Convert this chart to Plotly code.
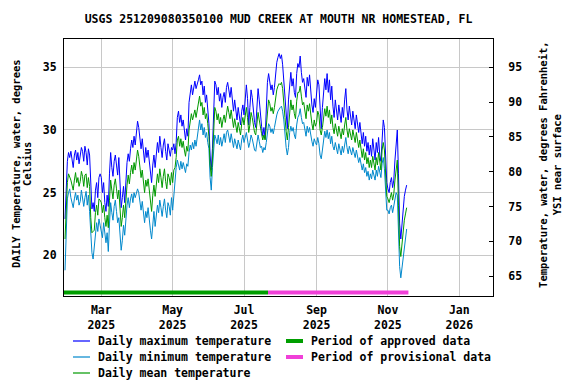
import plotly.graph_objects as go
import pandas as pd

# ---------------- data ----------------
START_DATE = "2025-01-29"
END_DATE = "2025-11-17"

MAX_JAN = [22.9, 26.0, 27.5]
MAX_FEB = [28.2, 27.8, 28.3, 27.4, 27.0, 28.0, 28.4, 27.6, 28.2, 27.3,
           28.0, 28.6, 28.3, 27.5, 28.7, 28.2, 27.2, 28.5, 28.0, 25.0,
           23.7, 24.2, 23.5, 25.2, 25.8, 24.6, 26.2, 26.5]
MAX_MAR = [26.2, 25.0, 25.8, 24.2, 23.5, 24.8, 23.9, 26.5, 28.2, 27.0,
           26.3, 27.5, 28.0, 27.2, 26.4, 27.8, 25.0, 23.8, 24.6, 25.5,
           24.2, 26.0, 27.4, 28.1, 27.5, 28.5, 29.2, 28.6, 29.5, 28.8, 29.6]
MAX_APR = [30.7, 30.2, 29.3, 28.5, 29.3, 28.2, 27.4, 28.6, 27.8, 28.4,
           27.5, 26.8, 25.8, 27.2, 28.0, 27.0, 28.4, 29.0, 28.2, 29.5,
           28.6, 27.8, 28.8, 29.3, 28.3, 27.6, 28.9, 28.5, 27.9, 28.6]
MAX_MAY = [28.4, 28.9, 28.1, 29.0, 31.0, 31.5, 30.6, 31.2, 30.3, 30.8,
           29.9, 29.2, 30.1, 29.5, 32.2, 33.0, 33.6, 32.8, 33.4, 33.9,
           33.3, 33.8, 34.0, 34.4, 33.6, 33.9, 32.8, 33.5, 32.2, 32.8, 31.8]
MAX_JUN = [30.5, 28.0, 26.8, 28.5, 32.0, 33.9, 33.6, 32.8, 33.4, 32.3,
           32.9, 31.8, 32.6, 33.0, 32.2, 33.4, 33.8, 33.2, 32.6, 33.4,
           32.2, 31.5, 32.4, 31.6, 30.8, 31.8, 31.1, 30.4, 31.5, 32.0]
MAX_JUL = [31.2, 32.8, 33.6, 32.5, 30.4, 31.8, 33.2, 32.6, 31.5, 30.6,
           30.2, 32.0, 33.3, 32.4, 31.0, 30.3, 29.5, 30.2, 29.3, 31.5,
           33.8, 34.5, 34.0, 33.2, 33.6, 32.8, 33.4, 34.6, 35.4, 35.8, 36.1]
MAX_AUG = [35.7, 36.0, 35.2, 34.0, 32.5, 31.2, 30.1, 32.4, 34.0, 34.6,
           33.5, 34.1, 33.0, 32.6, 34.5, 35.3, 35.0, 35.9, 34.6, 33.8,
           34.1, 33.2, 32.6, 34.2, 33.5, 34.4, 33.0, 32.0, 31.4, 32.5, 31.8]
MAX_SEP = [32.8, 34.0, 33.6, 31.5, 30.1, 31.8, 33.0, 34.1, 33.2, 34.5,
           33.0, 34.0, 32.4, 33.5, 31.9, 31.0, 32.4, 31.3, 30.8, 32.0,
           31.2, 30.6, 31.8, 31.0, 32.4, 33.3, 31.6, 30.8, 31.9, 30.9]
MAX_OCT = [30.4, 31.5, 30.8, 30.1, 31.2, 30.4, 29.8, 30.6, 29.6, 28.9,
           29.8, 28.7, 29.5, 28.3, 29.0, 28.0, 28.8, 27.9, 29.3, 28.4,
           27.6, 29.0, 28.2, 29.4, 28.0, 27.5, 29.8, 30.8, 30.2, 27.4, 25.8]
MAX_NOV = [25.3, 25.0, 25.8, 26.2, 25.4, 26.0, 27.6, 29.2, 30.0, 26.5,
           22.5, 21.3, 22.6, 23.6, 24.7, 25.2, 25.6]

MIN_JAN = [18.8, 22.0, 24.5]
MIN_FEB = [25.0, 25.3, 24.6, 24.2, 23.8, 24.5, 25.0, 24.4, 24.8, 24.0,
           24.3, 25.2, 24.7, 23.9, 24.6, 25.1, 24.0, 24.8, 23.5, 21.5,
           20.2, 19.7, 20.5, 21.8, 22.6, 21.9, 22.9, 22.4]
MIN_MAR = [22.0, 21.4, 22.6, 21.6, 21.0, 21.8, 20.3, 22.5, 24.2, 23.4,
           22.8, 23.9, 24.4, 23.5, 22.6, 23.0, 21.5, 20.4, 21.2, 22.4,
           21.6, 23.2, 24.0, 24.6, 23.8, 24.5, 24.9, 24.2, 25.0, 24.6, 25.0]
MIN_APR = [25.3, 25.0, 24.4, 23.6, 24.3, 23.4, 22.6, 23.5, 23.0, 23.8,
           22.6, 22.0, 21.3, 22.4, 23.5, 22.3, 23.2, 24.0, 23.4, 24.4,
           23.8, 23.1, 23.9, 24.5, 23.6, 23.0, 24.2, 23.9, 23.2, 24.6]
MIN_MAY = [23.6, 24.8, 26.3, 27.0, 27.6, 27.2, 26.8, 27.5, 26.9, 27.4,
           27.0, 26.6, 27.3, 27.1, 28.2, 28.8, 28.4, 29.0, 28.5, 29.2,
           28.7, 29.5, 30.2, 30.8, 30.0, 30.5, 29.6, 30.2, 29.4, 29.8, 29.0]
MIN_JUN = [28.5, 26.2, 25.2, 27.0, 28.8, 29.6, 29.3, 28.9, 29.6, 28.8,
           29.4, 28.7, 29.2, 29.7, 29.0, 29.8, 30.0, 29.5, 29.0, 29.7,
           28.9, 28.6, 29.3, 28.8, 28.5, 29.2, 28.8, 28.4, 29.2, 29.6]
MIN_JUL = [29.0, 29.5, 29.8, 29.2, 28.6, 29.0, 29.6, 29.3, 28.8, 28.4,
           28.3, 29.0, 29.6, 29.1, 28.6, 28.7, 28.2, 28.6, 28.4, 29.0,
           30.0, 30.5, 30.3, 29.8, 30.1, 29.7, 30.2, 30.8, 31.2, 31.5, 31.7]
MIN_AUG = [31.8, 31.9, 31.5, 30.8, 29.6, 28.6, 28.0, 28.6, 29.8, 30.3,
           29.9, 30.2, 29.6, 29.3, 30.4, 31.0, 31.2, 31.7, 31.0, 30.5,
           30.6, 30.0, 29.5, 30.3, 29.8, 30.2, 29.5, 29.1, 28.7, 29.3, 29.0]
MIN_SEP = [28.8, 29.4, 28.9, 28.0, 27.7, 28.4, 29.2, 29.9, 29.4, 30.0,
           29.3, 29.8, 28.9, 29.5, 28.7, 28.4, 29.0, 28.5, 28.1, 28.9,
           28.4, 28.0, 28.7, 28.2, 28.8, 29.4, 28.6, 28.1, 28.7, 28.2]
MIN_OCT = [28.0, 28.6, 28.2, 27.8, 28.4, 27.9, 27.4, 27.8, 27.2, 26.8,
           27.3, 26.6, 27.0, 26.3, 26.7, 26.0, 26.5, 26.1, 26.8, 26.4,
           26.0, 26.8, 26.3, 27.1, 26.5, 26.2, 27.3, 27.8, 26.9, 24.6, 23.6]
MIN_NOV = [23.6, 23.3, 23.8, 24.0, 23.4, 23.9, 24.5, 25.0, 24.8, 21.5,
           19.1, 18.2, 19.0, 19.9, 21.0, 21.6, 22.1]

MEAN_JAN = [21.3, 24.0, 25.8]
MEAN_FEB = [26.5, 26.3, 26.0, 25.6, 25.2, 26.0, 26.6, 25.8, 26.2, 25.5,
            25.9, 26.7, 26.3, 25.5, 26.4, 26.5, 25.4, 26.2, 25.5, 23.0,
            21.8, 21.9, 22.0, 23.4, 24.0, 23.2, 24.5, 24.4]
MEAN_MAR = [24.2, 23.4, 24.0, 23.0, 22.3, 23.2, 22.2, 24.4, 26.0, 25.2,
            24.5, 25.6, 26.1, 25.3, 24.5, 25.2, 23.4, 22.3, 23.0, 24.0,
            23.0, 24.6, 25.6, 26.4, 25.7, 26.6, 27.2, 26.5, 27.4, 26.8, 27.5]
MEAN_APR = [28.4, 27.9, 27.0, 26.2, 26.8, 25.9, 25.0, 26.0, 25.5, 26.1,
            25.0, 24.4, 23.5, 24.8, 25.6, 24.7, 25.8, 26.5, 25.8, 26.9,
            26.2, 25.4, 26.3, 26.9, 25.9, 25.3, 26.5, 26.2, 25.6, 26.6]
MEAN_MAY = [25.8, 26.8, 27.0, 27.8, 29.2, 29.5, 28.7, 29.3, 28.6, 29.1,
            28.4, 27.9, 28.7, 28.3, 30.0, 30.8, 31.3, 30.8, 31.2, 31.6,
            31.0, 31.6, 32.0, 32.7, 31.9, 32.2, 31.2, 31.8, 30.9, 31.3, 30.5]
MEAN_JUN = [29.5, 27.2, 26.3, 27.6, 30.2, 31.8, 31.5, 30.8, 31.3, 30.5,
            31.0, 30.2, 30.8, 31.2, 30.6, 31.5, 31.9, 31.4, 30.9, 31.6,
            30.7, 30.2, 30.9, 30.4, 29.8, 30.6, 30.1, 29.6, 30.5, 31.0]
MEAN_JUL = [30.4, 31.2, 31.8, 31.0, 29.8, 30.4, 31.4, 31.0, 30.3, 29.8,
            29.6, 30.5, 31.4, 30.8, 30.0, 29.7, 29.2, 29.6, 29.2, 30.3,
            31.8, 32.4, 32.1, 31.5, 31.8, 31.3, 31.8, 32.6, 33.2, 33.5, 33.7]
MEAN_AUG = [33.6, 33.8, 33.3, 32.4, 31.0, 29.9, 29.2, 30.2, 31.8, 32.4,
            31.6, 32.0, 31.3, 30.9, 32.3, 33.0, 33.0, 33.5, 32.7, 32.0,
            32.2, 31.5, 30.9, 32.0, 31.5, 32.1, 31.1, 30.5, 30.0, 30.8, 30.3]
MEAN_SEP = [30.6, 31.5, 31.2, 30.0, 29.6, 30.2, 31.0, 31.7, 31.1, 31.9,
            31.0, 31.6, 30.5, 31.2, 30.2, 29.7, 30.5, 29.9, 29.5, 30.3,
            29.8, 29.3, 30.1, 29.6, 30.4, 31.0, 30.0, 29.4, 30.1, 29.5]
MEAN_OCT = [29.2, 30.0, 29.5, 29.0, 29.8, 29.1, 28.6, 29.2, 28.4, 27.8,
            28.5, 27.6, 28.2, 27.3, 27.8, 27.0, 27.6, 27.0, 27.9, 27.4,
            26.8, 27.8, 27.2, 28.2, 27.2, 26.8, 28.4, 29.0, 28.4, 25.8, 24.7]
MEAN_NOV = [24.5, 24.2, 24.6, 25.0, 24.4, 24.9, 26.0, 27.0, 27.6, 24.0,
            20.7, 19.9, 21.0, 21.8, 22.8, 23.3, 23.8]

APPROVED_PERIOD = ["2025-01-28", "2025-07-21 12:00"]
PROVISIONAL_PERIOD = ["2025-07-21 12:00", "2025-11-18 12:00"]

SERIES_NAMES = ["Daily maximum temperature", "Daily minimum temperature",
                "Daily mean temperature"]
PERIOD_NAMES = ["Period of approved data", "Period of provisional data"]
TITLE = "USGS 251209080350100 MUD CREEK AT MOUTH NR HOMESTEAD, FL"
LEFT_TITLE_LINES = ["DAILY Temperature, water, degrees", "Celsius"]
RIGHT_TITLE = "Temperature, water, degrees Fahrenheit,<br>YSI near surface"

# ---------------- assemble ----------------
dates = pd.date_range(START_DATE, END_DATE, freq="D")
t_max = (MAX_JAN + MAX_FEB + MAX_MAR + MAX_APR + MAX_MAY + MAX_JUN +
         MAX_JUL + MAX_AUG + MAX_SEP + MAX_OCT + MAX_NOV)
t_min = (MIN_JAN + MIN_FEB + MIN_MAR + MIN_APR + MIN_MAY + MIN_JUN +
         MIN_JUL + MIN_AUG + MIN_SEP + MIN_OCT + MIN_NOV)
t_mean = (MEAN_JAN + MEAN_FEB + MEAN_MAR + MEAN_APR + MEAN_MAY + MEAN_JUN +
          MEAN_JUL + MEAN_AUG + MEAN_SEP + MEAN_OCT + MEAN_NOV)
assert len(t_max) == len(dates) == len(t_min) == len(t_mean)

# ---------------- style / geometry ----------------
OFF = 8                      # page body margin of the browser
W, H = 576 - OFF, 384 - OFF
# target screen positions of the plot box
PL, PR, PT, PB = 64, 493, 39, 296
ML, MT = PL - OFF, PT - OFF
MR, MB = W - (PR - OFF), H - (PB - OFF)
PW, PH = W - ML - MR, H - MT - MB

FONT = "DejaVu Sans Mono"
C_RANGE = [16.75, 37.26]
F_RANGE = [c * 9 / 5 + 32 for c in C_RANGE]
X_RANGE = ["2025-01-28 03:00", "2026-01-29 19:00"]
PERIOD_Y = 17.02
GRID = "#c8c8c8"
COL_MAX, COL_MIN, COL_MEAN = "#0000ff", "#0088cc", "#009900"
COL_APP, COL_PROV = "#009e00", "#f040d8"


def px(xs):
    return (xs - PL) / PW


def py(ys):
    return (PB - ys) / PH


fig = go.Figure()
fig.add_trace(go.Scatter(x=dates, y=t_max, mode="lines", name=SERIES_NAMES[0],
                         line=dict(color=COL_MAX, width=1), showlegend=False))
fig.add_trace(go.Scatter(x=dates, y=t_min, mode="lines", name=SERIES_NAMES[1],
                         line=dict(color=COL_MIN, width=1), showlegend=False))
fig.add_trace(go.Scatter(x=dates, y=t_mean, mode="lines", name=SERIES_NAMES[2],
                         line=dict(color=COL_MEAN, width=1), showlegend=False))
fig.add_trace(go.Scatter(x=APPROVED_PERIOD, y=[PERIOD_Y, PERIOD_Y], mode="lines",
                         name=PERIOD_NAMES[0], line=dict(color=COL_APP, width=4),
                         showlegend=False))
fig.add_trace(go.Scatter(x=PROVISIONAL_PERIOD, y=[PERIOD_Y, PERIOD_Y], mode="lines",
                         name=PERIOD_NAMES[1], line=dict(color=COL_PROV, width=4),
                         showlegend=False))
# invisible trace to drive the Fahrenheit axis
fig.add_trace(go.Scatter(x=[dates[0]], y=[t_max[0] * 9 / 5 + 32], yaxis="y2",
                         mode="markers", marker=dict(opacity=0), showlegend=False,
                         hoverinfo="skip"))

# ---- legend drawn by hand (two columns) ----
shapes, annots = [], []
ROWS = [341, 357, 373]
legend_items = [
    (SERIES_NAMES[0], COL_MAX, 1.2, 73, 90, 96, ROWS[0]),
    (SERIES_NAMES[1], COL_MIN, 1.2, 73, 90, 96, ROWS[1]),
    (SERIES_NAMES[2], COL_MEAN, 1.2, 73, 90, 96, ROWS[2]),
    (PERIOD_NAMES[0], COL_APP, 4, 286, 303, 309, ROWS[0]),
    (PERIOD_NAMES[1], COL_PROV, 4, 286, 303, 309, ROWS[1]),
]
for name, col, lw, x0, x1, xt, yr in legend_items:
    shapes.append(dict(type="line", xref="paper", yref="paper",
                       x0=px(x0), x1=px(x1), y0=py(yr), y1=py(yr),
                       line=dict(color=col, width=lw)))
    annots.append(dict(text=name, xref="paper", yref="paper", x=px(xt), y=py(yr),
                       xanchor="left", yanchor="middle", showarrow=False,
                       font=dict(family=FONT, size=11.5, weight="bold", color="black")))

TITLE_FONT = dict(family=FONT, size=10.5, weight="bold", color="black")
annots += [
    dict(text=LEFT_TITLE_LINES[0], xref="paper", yref="paper", x=px(16), y=py(164),
         xanchor="center", yanchor="middle", textangle=-90, showarrow=False,
         font=TITLE_FONT),
    dict(text=LEFT_TITLE_LINES[1], xref="paper", yref="paper", x=px(27), y=py(164),
         xanchor="center", yanchor="middle", textangle=-90, showarrow=False,
         font=TITLE_FONT),
    dict(text=RIGHT_TITLE, xref="paper", yref="paper", x=px(550.5), y=py(164.4),
         xanchor="center", yanchor="middle", textangle=-90, showarrow=False,
         font=TITLE_FONT),
]

fig.update_layout(
    width=W, height=H,
    margin=dict(l=ML, r=MR, t=MT, b=MB, autoexpand=False),
    paper_bgcolor="white", plot_bgcolor="white",
    showlegend=False,
    font=dict(family=FONT, size=11.5, color="black", weight="bold"),
    title=dict(text=TITLE, x=0.5, xref="paper", xanchor="center",
               y=1 - (19 - OFF) / H, yref="container", yanchor="middle",
               font=dict(family=FONT, size=11.5, color="black", weight="bold")),
    xaxis=dict(type="date", range=X_RANGE, dtick="M2", tick0="2025-01-01",
               tickformat="%b<br>%Y", showgrid=True, gridcolor=GRID, gridwidth=1,
               showline=True, linecolor="black", linewidth=1, mirror=True,
               ticks="", zeroline=False, ticklabelstandoff=3),
    yaxis=dict(range=C_RANGE, tick0=20, dtick=5, showgrid=True, gridcolor=GRID,
               gridwidth=1, showline=True, linecolor="black", linewidth=1,
               mirror=True, ticks="", zeroline=False, ticklabelstandoff=4),
    yaxis2=dict(range=F_RANGE, tick0=65, dtick=5, overlaying="y", side="right",
                showgrid=False, showline=True, linecolor="black", linewidth=1,
                ticks="inside", ticklen=4, tickcolor="black", zeroline=False,
                ticklabelstandoff=12),
    shapes=shapes,
    annotations=annots,
)

fig.write_html("out.html")
